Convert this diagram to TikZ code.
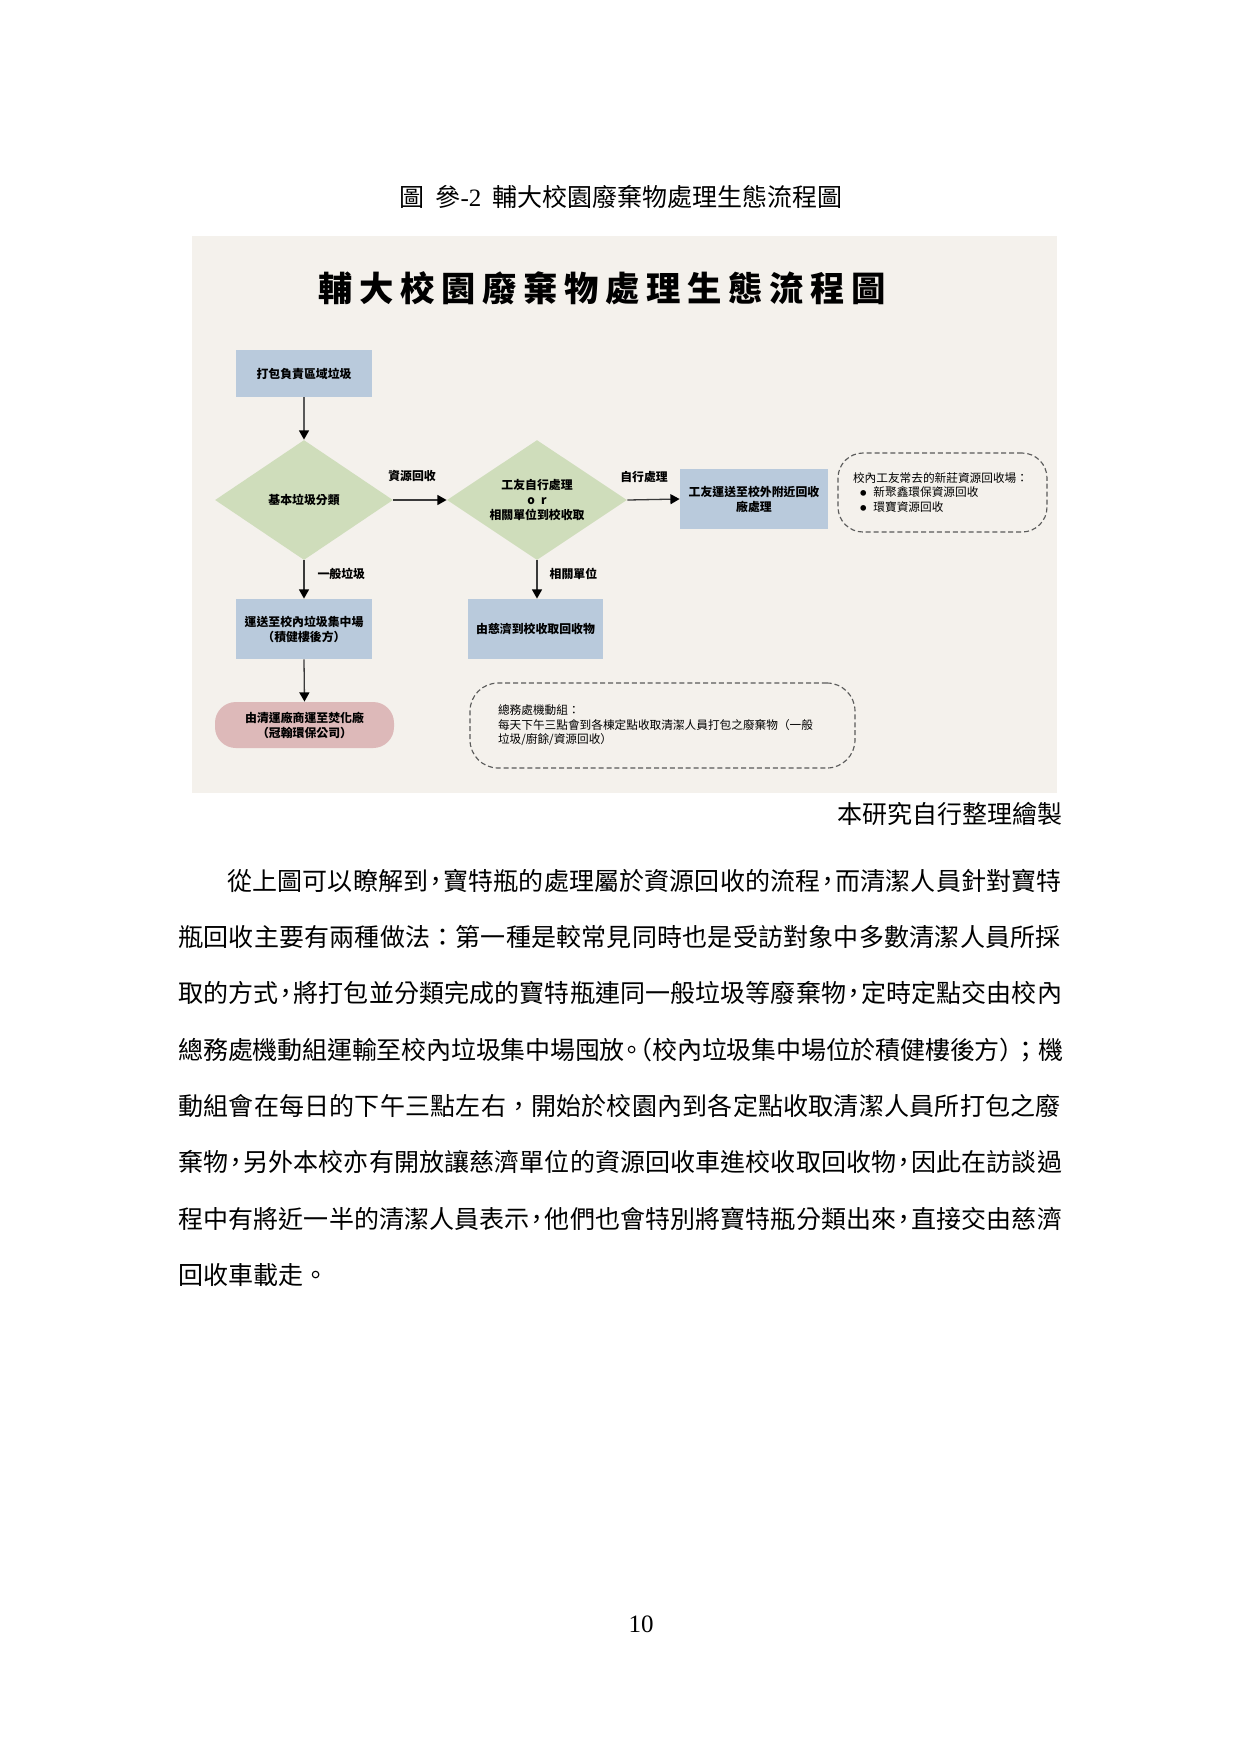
\documentclass[tikz,border=0pt]{standalone}
\usepackage{fontspec}
\setmainfont{Liberation Serif}
\newfontfamily\cjk{Noto Sans CJK TC}
\usetikzlibrary{shapes.geometric,arrows.meta}
\definecolor{bgc}{HTML}{F4F1EC}
\definecolor{boxblue}{HTML}{B9CADC}
\definecolor{dgreen}{HTML}{CFDDBB}
\definecolor{pinkc}{HTML}{DDB9B9}
\definecolor{dashc}{HTML}{5A5A5A}
\definecolor{linec}{HTML}{3A3A3A}
\newcommand\pc{\makebox[0.6em][c]{，}}
\newcommand\pp[2][c]{\makebox[0.55em][#1]{#2}}
\newcommand\tk{\kern3.2pt}
\tikzset{
  flowbox/.style={rectangle, fill=boxblue, inner sep=0pt, align=center,
    font=\cjk\bfseries\fontsize{5.7pt}{7.2pt}\selectfont},
  decbox/.style={diamond, aspect=1.5, fill=dgreen, inner sep=0pt, align=center,
    font=\cjk\bfseries\fontsize{5.7pt}{7pt}\selectfont},
  termbox/.style={rectangle, rounded corners=10pt, fill=pinkc, inner sep=0pt, align=center,
    font=\cjk\bfseries\fontsize{5.7pt}{7.2pt}\selectfont},
  notebox/.style={rectangle, draw=dashc, dash pattern=on 2.4pt off 1.4pt, line width=0.55pt,
    inner sep=0pt, align=left, font=\cjk\fontsize{5.6pt}{7pt}\selectfont},
  flowarrow/.style={draw=linec, line width=0.62pt, -{Triangle[width=4.8pt,length=4.4pt,color=black]}},
  lbl/.style={inner sep=0pt, font=\cjk\bfseries\fontsize{5.7pt}{7pt}\selectfont},
  bodyline/.style={anchor=west, inner sep=0pt, font=\cjk\fontsize{12pt}{14pt}\selectfont,
    execute at begin node={\XeTeXlinebreaklocale "zh"\XeTeXlinebreakskip=0pt plus 2pt minus 1.5pt\relax\parfillskip=0pt\relax\noindent}}
}
\begin{document}
\begin{tikzpicture}[x=0.48pt, y=-0.48pt]
\useasboundingbox (0,0) rectangle (1241,1755);
\fill[white] (0,0) rectangle (1241,1755);

% caption
\node[inner sep=0pt, font=\fontsize{12pt}{14pt}\selectfont] (cap) at (621,197)
  {{\cjk 圖}\hspace{5.5pt}{\cjk 參}-2\hspace{5.5pt}{\cjk 輔大校園廢棄物處理生態流程圖}};

% figure background
\fill[bgc] (192,236) rectangle (1057,793);

% title
\node[inner sep=0pt, font=\cjk\bfseries\fontsize{16.5pt}{18pt}\selectfont] (ttl) at (602,288)
  {輔\tk 大\tk 校\tk 園\tk 廢\tk 棄\tk 物\tk 處\tk 理\tk 生\tk 態\tk 流\tk 程\tk 圖};

% flow nodes
\node[flowbox, minimum width=65.28pt, minimum height=22.56pt] (n1) at (304,373.5) {打包負責區域垃圾};
\node[decbox, minimum width=85.44pt, minimum height=57.6pt] (d1) at (304,500) {基本垃圾分類};
\node[decbox, minimum width=86.4pt, minimum height=57.6pt] (d2) at (537,500)
  {工友自行處理\\o\hspace{3pt}r\\相關單位到校收取};
\node[flowbox, minimum width=71.04pt, minimum height=28.8pt] (out) at (754,499)
  {工友運送至校外附近回收\\廠處理};
\node[notebox, rounded corners=12pt, minimum width=100.32pt, minimum height=37.92pt, text width=85.92pt]
  (note1) at (942.5,492.5)
  {校內工友常去的新莊資源回收場：\\
   \hspace*{3pt}$\bullet$\hspace{3pt}新聚鑫環保資源回收\\
   \hspace*{3pt}$\bullet$\hspace{3pt}環寶資源回收};
\node[flowbox, minimum width=65.28pt, minimum height=28.8pt] (b2) at (304,629)
  {運送至校內垃圾集中場\\（積健樓後方）};
\node[termbox, minimum width=85.92pt, minimum height=22.08pt] (pk) at (304.5,725)
  {由清運廠商運至焚化廠\\（冠翰環保公司）};
\node[flowbox, minimum width=64.8pt, minimum height=28.8pt] (b3) at (535.5,629)
  {由慈濟到校收取回收物};
\node[notebox, rounded corners=13.5pt, minimum width=184.8pt, minimum height=40.8pt, text width=157.92pt]
  (note2) at (662.5,725.5)
  {總務處機動組：\\
   每天下午三點會到各棟定點收取清潔人員打包之廢棄物（一般\\
   垃圾/廚餘/資源回收）};

% connectors
\draw[flowarrow, draw=black!65] (n1.south) -- (d1.north);
\draw[flowarrow] (d1.east) -- node[lbl, pos=0.35, above=8.4pt] (lab1) {資源回收} (d2.west);
\draw[flowarrow] (d2.east) -- node[lbl, pos=0.32, above=8pt] (lab2) {自行處理} (out.west);
\draw[flowarrow] (d1.south) -- node[lbl, pos=0.36, right=6.2pt] (lab3) {一般垃圾} (b2.north);
\draw[flowarrow] (b2.south) -- (pk.north);
\draw[flowarrow] (d2.south) -- node[lbl, pos=0.36, right=5.8pt] (lab4) {相關單位} (d2.south |- b3.north);

% source
\node[inner sep=0pt, anchor=east, font=\cjk\fontsize{12pt}{14pt}\selectfont] (src) at (1063,814) {本研究自行整理繪製};

% body text
\node[bodyline, text width=401.28pt] (l1) at (227,881)
  {從上圖可以瞭解到\pc 寶特瓶的處理屬於資源回收的流程\pc 而清潔人員針對寶特};
\node[bodyline, text width=424.8pt] (l2) at (178,937)
  {瓶回收主要有兩種做法：第一種是較常見同時也是受訪對象中多數清潔人員所採};
\node[bodyline, text width=424.8pt] (l3) at (178,993)
  {取的方式\pc 將打包並分類完成的寶特瓶連同一般垃圾等廢棄物\pc 定時定點交由校內};
\node[bodyline, text width=424.8pt] (l4) at (178,1050)
  {總務處機動組運輸至校內垃圾集中場囤放\pp[c]{。}\pp[r]{（}校內垃圾集中場位於積健樓後方\pp[l]{）}；機};
\node[bodyline, text width=424.8pt] (l5) at (178,1106)
  {動組會在每日的下午三點左右，開始於校園內到各定點收取清潔人員所打包之廢};
\node[bodyline, text width=424.8pt] (l6) at (178,1162)
  {棄物\pc 另外本校亦有開放讓慈濟單位的資源回收車進校收取回收物\pc 因此在訪談過};
\node[bodyline, text width=424.8pt] (l7) at (178,1219)
  {程中有將近一半的清潔人員表示\pc 他們也會特別將寶特瓶分類出來\pc 直接交由慈濟};
\node[anchor=west, inner sep=0pt, font=\cjk\fontsize{12pt}{14pt}\selectfont] (l8) at (178,1275)
  {回收車載走。};

% page number
\node[inner sep=0pt, font=\fontsize{12pt}{14pt}\selectfont] (pg) at (641,1624) {10};
\end{tikzpicture}
\end{document}
